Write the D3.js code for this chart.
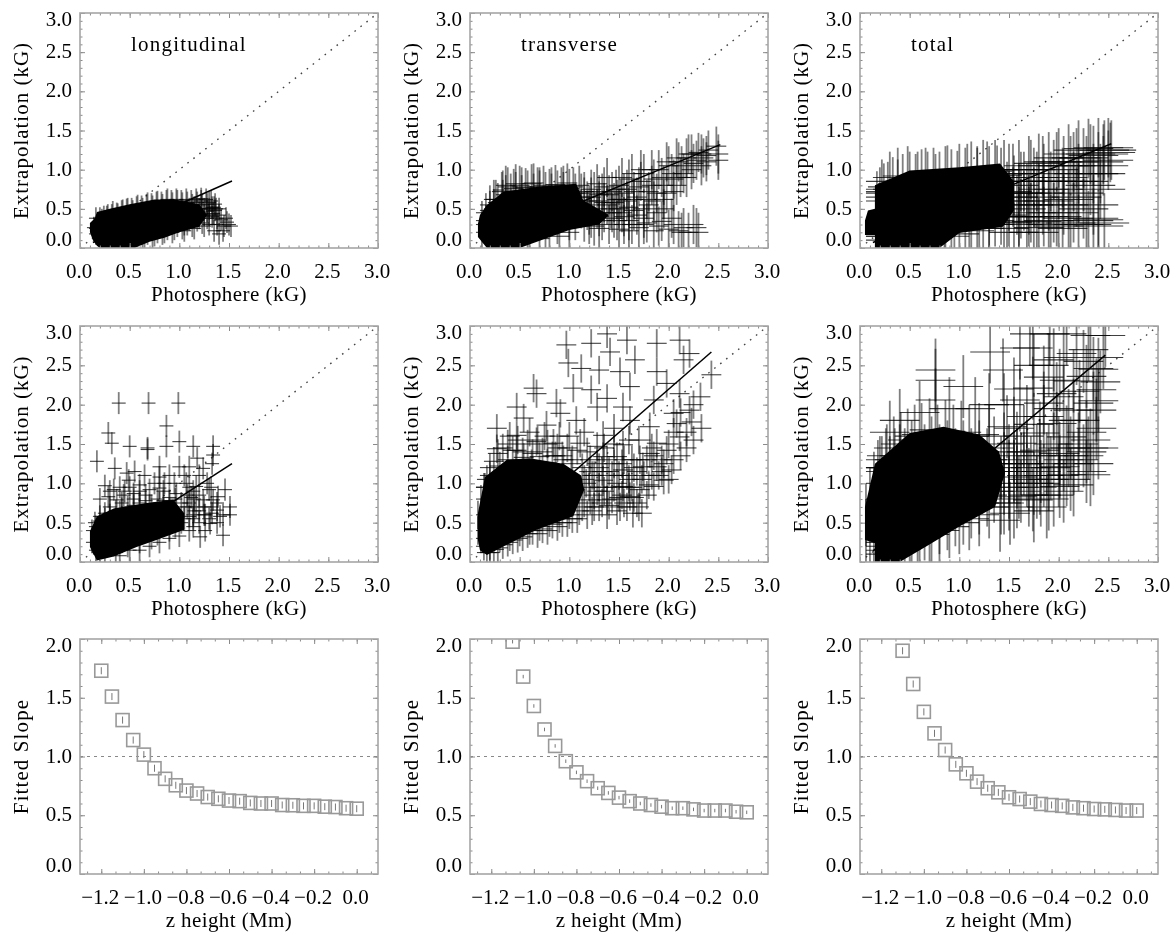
<!DOCTYPE html>
<html>
<head>
<meta charset="utf-8">
<script src="https://cdn.jsdelivr.net/npm/d3@7"></script>
<style>
  body { margin: 0; background: #fff; }
  text { font-family: "Liberation Serif", serif; fill: #000; }
</style>
</head>
<body>
<svg id="chart" width="1170" height="932"></svg>
<script>
// data vars: [photosphere, extrapolation]
const longTopCore = [[.1,.2],[.13,.1],[.17,.03],[.2,0],[.55,0],[.7,.08],[.85,.13],[1,.2],[1.2,.27],[1.28,.42],[1.2,.56],[.95,.62],[.75,.62],[.5,.56],[.3,.5],[.17,.46],[.15,.38],[.1,.32]];
const longTopCrosses = [[.18,.3],[.22,.36],[.27,.4],[.32,.42],[.37,.44],[.42,.47],[.47,.49],[.52,.5],[.57,.52],[.62,.53],[.67,.55],[.72,.56],[.77,.58],[.82,.58],[.87,.6],[.92,.6],[.97,.62],[1.02,.6],[1.07,.62],[1.12,.6],[1.17,.62],[1.22,.63],[1.27,.62],[1.32,.6],[1.36,.56],[1.3,.5],[1.36,.48],[1.25,.42],[1.2,.5],[1.15,.44],[1.1,.36],[1.05,.3],[.3,.1],[.42,.08],[.55,.1],[.65,.13],[.75,.16],[.85,.2],[.95,.24],[1.05,.22],[1.15,.25],[1.25,.28],[1.3,.3],[1.38,.38],[1.42,.36],[1.45,.28],[1.48,.33],[1.5,.3],[1.44,.22],[1.4,.18],[1.35,.22],[1.47,.38],[1.38,.3],[1.52,.28],[.16,.18],[.14,.26],
  [.16,.25],[.16,.38],[.2,.15],[.2,.38],[.24,.1],[.24,.4],[.28,.42],[.28,.12],[.33,.46],[.33,.15],[.38,.43],[.38,.1],[.43,.48],[.43,.12],[.48,.5],[.48,.15],[.53,.47],[.53,.08],[.58,.54],[.58,.16],[.63,.5],[.63,.12],[.68,.57],[.68,.18],[.73,.53],[.73,.14],[.78,.59],[.78,.2],[.83,.55],[.83,.18],[.88,.62],[.88,.24],[.93,.57],[.93,.2],[.98,.6],[.98,.28],[1.03,.57],[1.03,.25],[1.08,.58],[1.08,.3],[1.13,.55],[1.13,.28],[1.18,.58],[1.18,.35],[1.23,.55],[1.23,.32],[1.28,.56],[1.28,.38],[1.33,.52],[1.33,.4],[1.37,.5],[1.2,.45],[1.28,.47],[1.34,.44],
  [1.2,.38],[1.25,.5],[1.3,.42],[1.35,.52],[1.4,.42],[1.22,.6],[1.3,.58],[1.15,.52],[1.1,.5],[1.4,.5]];

const transTopCore = [[.08,.31],[.1,.42],[.17,.55],[.34,.72],[.67,.78],[1.07,.82],[1.14,.61],[1.4,.42],[1.3,.3],[1,.23],[.5,0],[.17,0],[.08,.14]];
const transTopCrosses = [[.2,.55],[.26,.62],[.32,.72],[.38,.78],[.44,.76],[.5,.8],[.56,.77],[.62,.82],[.68,.78],[.74,.8],[.8,.76],[.86,.81],[.92,.78],[.98,.83],[1.04,.78],[1.1,.8],[1.15,.65],[1.2,.55],[1.25,.72],[1.3,.6],[1.35,.78],[1.4,.68],[1.45,.58],[1.5,.8],[1.55,.7],[1.6,.88],[1.65,.62],[1.7,.78],[1.75,.95],[1.8,.72],[1.85,.88],[1.9,1],[1.95,.8],[2,1.05],[2.05,.88],[2.1,1.1],[2.15,.95],[2.2,1.2],[2.25,1.08],[2.3,1.22],[2.35,1.15],[2.4,1.25],[2.48,1.3],[2.5,1.2],[2.5,1.12],[1.2,.42],[1.35,.45],[1.5,.5],[1.65,.48],[1.8,.55],[1.95,.5],[1.45,.38],[1.6,.35],[1.15,.33],[1.25,.28],[1.3,.25],[1.4,.3],[1.5,.24],[1.55,.3],[1.6,.22],[1.7,.26],[1.75,.3],[1.85,.22],[1.9,.28],[2,.24],[2.05,.3],[2.1,.22],[2.15,.26],[2.25,.3],[2.2,.2],[2.3,.2],[.3,.12],[.4,.1],[.5,.12],[.6,.15],[.7,.12],[.8,.18],[.9,.15],[1,.2],
  [.12,.2],[.12,.35],[.16,.3],[.16,.45],[.2,.15],[.2,.48],[.24,.5],[.24,.62],[.28,.58],[.28,.1],[.33,.62],[.33,.74],[.36,.68],[.36,.8],[.41,.7],[.41,.3],[.46,.72],[.46,.82],[.52,.68],[.52,.78],[.58,.74],[.58,.2],[.64,.7],[.64,.83],[.7,.74],[.7,.78],[.76,.72],[.76,.25],[.82,.78],[.82,.7],[.88,.74],[.88,.3],[.94,.8],[.94,.72],[1,.76],[1,.35],[1.06,.7],[1.06,.35],[1.12,.5],[1.12,.7],[1.18,.48],[1.18,.6],[1.22,.65],[1.22,.38],[1.28,.5],[1.28,.82],[1.33,.35],[1.33,.7],[1.38,.55],[1.38,.9],[1.43,.72],[1.43,.45],[1.48,.35],[1.48,.62],[1.53,.9],[1.53,.45],[1.58,.6],[1.58,.75],[1.63,.95],[1.63,.3],[1.68,.65],[1.68,.42],[1.72,.85],[1.72,1],[1.78,.62],[1.78,.32],[1.83,.8],[1.83,1],[1.88,.45],[1.88,.7],[1.93,.9],[1.93,.34],[1.98,.7],[1.98,1.1],[2.03,.95],[2.03,.38],[2.08,1.15],[2.08,.8],[2.13,1.05],[2.13,.2],[2.18,1.15],[2.18,.9],[2.23,1],[2.23,1.2],[2.28,1.12],[2.28,.26],[2.33,1.2],[2.33,1.05],[2.38,1.18],[2.38,1.1],
  [1.15,.72],[1.22,.75],[1.3,.68],[1.35,.58],[1.42,.5],[1.47,.75],[1.52,.62],[1.6,.52],[1.65,.72],[1.75,.5],[1.85,.6],[1.95,.62],[2.05,.72],[2.12,.9],[1.2,.3],[1.3,.4],[1.55,.4],[1.75,.38]];

const totalTopCore = [[.05,.165],[.05,.35],[.08,.48],[.15,.5],[.15,.8],[.5,.99],[1,1.03],[1.41,1.08],[1.55,.85],[1.55,.48],[1.44,.27],[1,.19],[.8,0],[.15,0],[.15,.165]];
const totalTopCrosses = [[.22,.75],[.3,.85],[.38,.9],[.48,.92],[.58,.85],[.66,.9],[.76,.82],[.88,.93],[.98,.86],[1.08,.95],[1.18,.92],[1.28,.98],[1.38,.93],[1.45,1],[1.5,.95],[1.55,.8],[1.6,1],[1.65,.85],[1.7,1.05],[1.75,.9],[1.8,1.08],[1.85,.95],[1.9,1.1],[1.95,1],[2,1.15],[2.05,1.05],[2.1,1.2],[2.15,1.1],[2.2,1.25],[2.25,1.15],[2.3,1.27],[2.35,1.18],[2.4,1.28],[2.45,1.2],[2.5,1.28],[2.52,1.22],[2.5,1.12],[2.45,1.05],[2.35,.95],[2.25,.85],[1.5,.6],[1.6,.7],[1.7,.55],[1.8,.7],[1.9,.6],[2,.75],[2.1,.62],[2.2,.7],[1.5,.4],[1.6,.3],[1.7,.4],[1.8,.26],[1.9,.35],[2,.28],[2.1,.38],[2.2,.3],[2.3,.35],[2.4,.28],[2.35,.38],[1.45,.25],[1.55,.2],[1.75,.2],[1.1,.22],[1.2,.25],[1.3,.3],[.95,.18],[.85,.15],
  [.17,.6],[.17,.2],[.2,.65],[.2,.15],[.24,.7],[.24,.1],[.28,.72],[.28,.15],[.33,.78],[.33,.2],[.38,.75],[.38,.25],[.43,.82],[.43,.18],[.5,.85],[.5,.22],[.56,.82],[.56,.3],[.62,.88],[.62,.28],[.68,.85],[.68,.2],[.74,.9],[.74,.3],[.8,.85],[.8,.25],[.86,.92],[.86,.32],[.92,.88],[.92,.3],[1,.95],[1,.32],[1.06,.9],[1.06,.3],[1.12,.98],[1.12,.35],[1.18,.9],[1.18,.35],[1.24,1],[1.24,.38],[1.3,.92],[1.3,.35],[1.36,1],[1.36,.4],[1.42,.9],[1.42,.42],[1.48,.72],[1.48,.33],[1.54,.65],[1.54,.95],[1.62,.85],[1.62,.5],[1.68,.7],[1.68,.32],[1.72,1],[1.72,.45],[1.78,.85],[1.78,.34],[1.84,1.05],[1.84,.55],[1.92,.85],[1.92,.3],[1.98,1.1],[1.98,.4],[2.04,.9],[2.04,.25],[2.12,1.05],[2.12,.32],[2.18,1.15],[2.18,.65],[2.28,1.05],[2.28,.3],[2.32,1.2],[2.32,.8],[2.4,1.1],[2.4,.36],[2.46,1.25],[2.46,.32],[2.53,1.25],
  [1.58,.55],[1.65,.6],[1.75,.65],[1.85,.75],[1.95,.45],[2.05,.55],[2.15,.45],[2.25,.5],[2.35,.55],[2.42,.75],[2.05,.85],[2.15,.85],[1.6,.4],[1.85,.4],[2.2,.95],[2.42,.95]];

const longMidCore = [[.1,.39],[.17,.58],[.34,.68],[.67,.75],[.94,.79],[1.05,.62],[1.05,.41],[.77,.28],[.57,.19],[.34,.07],[.17,.02],[.1,.19]];
const longMidCrosses = [[.39,2.02],[.69,2.02],[.99,2.02],[.87,1.73],[.285,1.64],[.32,1.51],[.5,1.47],[.68,1.43],[.68,1.45],[.87,1.47],[1,1.53],[.17,1.28],[.35,1.19],[.47,1.13],[.8,1.21],[1.14,1.47],[1.34,1.47],[1.34,1.36],[1.18,1.32],[.25,.97],[.34,.92],[.49,1.04],[.6,.98],[.8,1.08],[.9,1.1],[1,1.21],[1.1,1.21],[1.24,1.19],[1.33,1.25],[1.46,.92],[1.39,.83],[1.51,.7],[1.51,.6],[1.33,.62],[1.31,.49],[1.44,.34],[1.21,.32],[1.41,.58],[1.17,.96],[1.28,1],[1.07,1],[.97,.87],[.37,.79],[.285,.83],[.44,.85],[.54,.87],[.7,.92],[.8,.94],[1.17,.7],[1.24,.79],[1.14,.6],[1.34,.79],[1.14,.45],[.25,.1],[.4,.08],[.5,.15],[.6,.15],[.7,.2],[.8,.25],[.9,.3],[1,.33],[1.1,.4],[.15,.5],[.2,.58],[.3,.62],[.4,.64],[.5,.68],[.6,.7],[.7,.72],[.8,.75],[.9,.78],[1.05,.7],[1.1,.58],[1.25,.6],[1.38,.66],[1.3,.92],[1.12,.82],
  [.12,.25],[.12,.4],[.16,.45],[.16,.15],[.2,.52],[.2,.1],[.25,.55],[.25,.62],[.3,.6],[.3,.7],[.36,.65],[.36,.12],[.42,.68],[.42,.75],[.48,.7],[.48,.2],[.54,.72],[.54,.8],[.6,.75],[.6,.25],[.66,.78],[.66,.85],[.72,.72],[.72,.3],[.78,.8],[.78,.35],[.84,.78],[.84,.9],[.9,.82],[.9,.4],[.96,.8],[.96,.45],[1.02,.75],[1.02,.5],[1.08,.7],[1.08,.85],[1.14,.55],[1.14,.9],[1.2,.65],[1.2,.5],[1.26,.6],[1.26,.4],[1.32,.7],[1.32,.95],[1.38,.75],[1.38,.5],[1.44,.6],[1.05,1.1],[.65,1.1],[.5,.95],[.4,.95],[.3,.9],[.2,.8],[.75,1],[.95,1],[1.2,1.1],[.55,1.15],
  [1.1,.75],[1.15,.8],[1.05,.55],[1.15,.65],[1.2,.85],[1.25,.7],[1.3,.55],[1.1,.95],[.85,1],[.6,.9],[.45,.9]];

const transMidCore = [[.08,.28],[.08,.62],[.15,1.08],[.37,1.3],[.6,1.32],[.94,1.25],[1.12,1.1],[1.15,.92],[1.04,.58],[.67,.41],[.34,.2],[.17,.09],[.1,.15]];
const transMidCrosses = [[.97,2.76],[1.22,2.78],[1.38,2.9],[1.58,2.82],[1.88,2.78],[2.11,2.82],[1.41,2.67],[.99,2.53],[1.12,2.46],[1.3,2.44],[1.66,2.57],[1.51,2.42],[1.88,2.42],[2.21,2.65],[2.43,2.38],[2.15,2.57],[.64,2.21],[.67,2.14],[1.04,2.21],[1.22,2.19],[1.38,2.08],[1.61,2.23],[1.85,2.06],[1.98,2.27],[2.11,2.14],[2.32,2.1],[.47,1.97],[.54,1.83],[.87,2.02],[.91,1.89],[1.28,1.97],[1.54,1.97],[2.05,1.89],[2.21,1.93],[2.33,1.7],[.27,1.7],[.47,1.61],[.77,1.74],[1.07,1.8],[1.34,1.61],[1.61,1.8],[1.81,1.72],[2.08,1.76],[2.23,1.78],[.27,1.44],[.47,1.42],[.67,1.53],[.84,1.51],[1.11,1.51],[1.28,1.47],[1.54,1.49],[1.81,1.38],[1.98,1.42],[2.11,1.59],[1.95,1.04],[2.03,1.17],[1.85,.96],[1.64,.62],[1.71,.92],[1.54,.96],[1.38,.79],[1.54,1.17],[1.74,1.21],[1.34,1.04],[1.21,1.3],[1.34,1.34],[1.48,1.34],[1.17,1],[1.21,.79],[1.51,.7],[1.38,.6],[1.61,.83],[1.88,1.21],[1.88,1.51],[1.71,1.3],[.15,.95],[.2,1.1],[.3,1.22],[.38,1.3],[.46,1.24],[.54,1.33],[.62,1.25],[.7,1.34],[.78,1.26],[.86,1.35],[.94,1.3],[1.02,1.25],[.2,.2],[.3,.3],[.4,.32],[.5,.38],[.6,.4],[.7,.45],[.8,.5],[.9,.55],[1,.6],[1.1,.65],
  [.08,.4],[.08,.6],[.11,.3],[.11,.8],[.14,.95],[.14,.2],[.17,1.05],[.17,.12],[.2,1.2],[.2,.12],[.24,1.28],[.24,.16],[.28,1.38],[.28,.18],[.33,1.45],[.33,.22],[.38,1.5],[.38,.25],[.43,1.42],[.43,.28],[.48,1.55],[.48,.3],[.53,1.4],[.53,.32],[.58,1.5],[.58,.36],[.63,1.38],[.63,.4],[.68,1.55],[.68,.36],[.73,1.4],[.73,.42],[.78,1.5],[.78,.4],[.83,1.35],[.83,.48],[.88,1.45],[.88,.45],[.93,1.35],[.93,.5],[.98,1.45],[.98,.5],[1.03,1.3],[1.03,.55],[1.08,1.42],[1.08,.55],[1.13,1.2],[1.13,.7],[1.18,1.4],[1.18,.6],[1.23,1.1],[1.23,.65],[1.28,.9],[1.28,1.25],[1.33,.75],[1.33,1.15],[1.38,.95],[1.38,1.3],[1.43,.8],[1.43,1.1],[1.48,.65],[1.48,1],[1.53,.85],[1.53,1.25],[1.58,.7],[1.58,1.1],[1.63,.95],[1.63,1.3],[1.68,.75],[1.68,1.15],[1.73,1.05],[1.73,.62],[1.78,1.3],[1.78,.85],[1.83,1.1],[1.83,1.45],[1.93,1.3],[1.93,1.15],[2,1.5],[2,1.05],[2.05,1.3],[2.05,1.65],[2.12,1.35],[2.12,1.9],[2.18,1.65],[2.18,1.45],[2.25,2],[2.25,1.55],
  [1.15,1.05],[1.2,.95],[1.25,1.1],[1.25,.85],[1.3,1.2],[1.3,.95],[1.35,.9],[1.4,1.15],[1.4,.72],[1.45,1.25],[1.45,.95],[1.5,.82],[1.5,1.1],[1.55,.75],[1.55,1.3],[1.6,.95],[1.6,1.05],[1.65,1.2],[1.65,.82],[1.7,.7],[1.75,1.1],[1.8,.98],[1.85,1.35],[1.9,1.1],[1.95,1.25],[1.2,1.15],[1.15,.75],[1.25,.7],[1.3,.7],[1.35,1.45],[1.45,1.5],[1.6,1.55],[1.7,1.55],[.9,1.6],[.75,1.6],[.6,1.65],[.4,1.6],[1,1.6],[1.15,1.65],[1.45,1.7]];

const totalMidCore = [[.05,.28],[.05,.7],[.15,1.25],[.5,1.64],[.84,1.72],[1.2,1.62],[1.4,1.4],[1.46,1.13],[1.36,.7],[1,.45],[.67,.2],[.4,0],[.15,0],[.15,.24]];
const totalMidCrosses = [[.76,2.44],[.76,2.31],[.76,2.06],[1.31,2.67],[1.04,2.23],[1.16,1.95],[1.44,2.44],[1.61,2.72],[1.74,2.72],[1.91,2.9],[2.08,2.9],[1.71,2.9],[2.32,2.88],[2.47,2.88],[1.95,2.57],[2.18,2.65],[2.35,2.46],[2.01,2.31],[2.28,2.36],[2.42,2.29],[1.74,2.21],[1.98,2.14],[2.21,2.17],[2.38,2.19],[1.61,2.06],[1.85,2.02],[2.35,2.02],[2.15,1.93],[2.38,1.93],[1.68,1.85],[1.98,1.76],[2.21,1.8],[2.38,1.7],[1.48,1.72],[1.81,1.64],[2.08,1.59],[2.32,1.55],[1.58,1.51],[1.81,1.42],[2.01,1.38],[2.28,1.4],[1.58,1.3],[1.88,1.25],[2.15,1.25],[2.35,1.25],[1.58,1.08],[1.81,1],[2.08,1.11],[2.32,1.11],[1.74,.79],[1.58,.83],[2.01,.96],[1.88,.7],[1.51,.62],[1.41,.53],[2.01,1.21],[.2,1.2],[.27,1.35],[.34,1.45],[.41,1.5],[.48,1.55],[.55,1.6],[.62,1.62],[.7,1.68],[.78,1.6],[.86,1.66],[.94,1.6],[1.02,1.65],[1.1,1.6],[1.2,1.62],[1.3,1.6],[.5,.25],[.6,.3],[.7,.35],[.8,.4],[.9,.45],[1,.5],[1.1,.55],[1.2,.6],[1.3,.7],[1.45,1],[1.45,1.25],[1.7,1.05],
  [.06,.4],[.06,.6],[.1,.35],[.1,.8],[.14,1],[.14,.2],[.18,1.15],[.18,.25],[.22,1.2],[.22,.1],[.26,1.3],[.26,.15],[.3,1.2],[.35,1.3],[.35,.12],[.4,1.35],[.4,.2],[.45,1.3],[.45,.25],[.52,1.4],[.52,.3],[.58,1.25],[.58,.35],[.65,1.35],[.65,.42],[.72,1.45],[.72,.4],[.8,1.35],[.8,.5],[.88,1.4],[.88,.55],[.96,1.3],[.96,.6],[1.04,1.4],[1.04,.62],[1.12,1.3],[1.12,.7],[1.2,1.4],[1.2,.75],[1.28,1.3],[1.28,.85],[1.35,1.45],[1.35,.9],[1.42,1.2],[1.42,.75],[1.5,1.35],[1.5,.95],[1.55,1.15],[1.55,.7],[1.62,1.25],[1.62,.9],[1.68,1.4],[1.68,1.1],[1.75,1],[1.75,.65],[1.82,1.15],[1.82,.85],[1.9,1.05],[1.9,1.35],[1.95,.85],[1.95,1.5],[2.05,1.3],[2.05,.9],[2.12,1.45],[2.12,1.05],[2.2,1.3],[2.2,1.5],[2.28,1.15],[2.28,1.65],[2.4,1.45],[2.4,2.05],[1.85,2.35],[1.75,2.5],[2.05,2.6],[2.25,2.55],[2.45,2.6],
  [1.45,.75],[1.5,1.15],[1.5,.8],[1.55,1.4],[1.6,.95],[1.65,1.25],[1.7,.85],[1.72,1.2],[1.78,.95],[1.78,1.35],[1.85,1.1],[1.9,.8],[1.92,1.2],[2,1.1],[2,1.45],[2.1,1.35],[2.15,.98],[2.25,1.35],[2.3,1.45],[1.45,1.5],[1.55,1.7],[1.65,1.6],[1.75,1.75],[1.85,1.85],[1.95,1.95],[2.1,1.8],[2.05,2.1],[2.15,2.3],[1.9,2.5],[2.3,2.7],[2.4,2.45],[1.55,2.2],[1.45,2],[1.3,2],[.9,1.95],[.6,1.9],[.4,1.8],[.3,1.65]];

// error bar half sizes for each scatter panel, kG
const crossErrors = [[.07,.14],[.1,.25],[.25,.38],[.07,.14],[.1,.18],[.2,.4]];
// nothing was measured left of this photosphere value
const leftLimit = 0.06;
// end points of the fitted lines
const fitLines = [[[.13,.07],[1.53,.855]],[[.13,.07],[2.52,1.32]],[[.13,.07],[2.53,1.33]],[[.13,.11],[1.53,1.25]],[[.13,.14],[2.43,2.67]],[[.13,.14],[2.47,2.63]]];

const heightsLong = [-1.2,-1.15,-1.1,-1.05,-1,-.95,-.9,-.85,-.8,-.75,-.7,-.65,-.6,-.55,-.5,-.45,-.4,-.35,-.3,-.25,-.2,-.15,-.1,-.05,0];
const heightsOther = [-1.1,-1.05,-1,-.95,-.9,-.85,-.8,-.75,-.7,-.65,-.6,-.55,-.5,-.45,-.4,-.35,-.3,-.25,-.2,-.15,-.1,-.05,0];
const slopesLong = [1.73,1.51,1.31,1.14,1.016,.9,.81,.755,.71,.685,.655,.64,.625,.62,.605,.6,.6,.587,.585,.58,.58,.573,.57,.56,.556];
const slopesTrans = [1.977,1.68,1.43,1.23,1.09,.96,.865,.79,.73,.69,.65,.62,.6,.587,.573,.56,.56,.55,.54,.54,.54,.53,.525];
const slopesTotal = [1.9,1.617,1.38,1.197,1.055,.933,.857,.786,.73,.695,.653,.638,.616,.596,.587,.58,.567,.56,.553,.55,.545,.54,.54];
const slopeErrors = [.03,.015,.03];

const scatterTicks = [0, .5, 1, 1.5, 2, 2.5, 3];
const slopeTicks = [0, .5, 1, 1.5, 2];
const heightTicks = [-1.2, -1, -.8, -.6, -.4, -.2, 0];
const panelTitles = ["longitudinal", "transverse", "total"];

// constants
const columns = [80, 470, 860];
const rows = [[13, 248], [326, 562], [639, 874]];
const boxWidth = 298;
const fontSize = 21;
const boxColor = "#a6a6a6";
const tickColor = "#8a8a8a";

const svg = d3.select("#chart");

const defs = svg.append("defs");
defs.append("filter").attr("id", "soften")
  .attr("filterUnits", "userSpaceOnUse")
  .attr("color-interpolation-filters", "sRGB")
  .attr("x", 0).attr("y", 0)
  .attr("width", 1170).attr("height", 932)
  .append("feGaussianBlur").attr("stdDeviation", 0.6);

const root = svg.append("g").attr("filter", "url(#soften)");
root.append("rect").attr("width", 1170).attr("height", 932).attr("fill", "#fff");

const fmt = d3.format(".1f");
const minusFmt = d => fmt(d).replace("-", "\u2212");

function frame(g, x, y, majorX, minorX, majorY, minorY) {
  const [x0, x1] = x.range();
  const [y1, y0] = y.range();

  const sides = [
    [d3.axisBottom(x), `translate(0,${y1})`, majorX, minorX],
    [d3.axisTop(x), `translate(0,${y0})`, majorX, minorX],
    [d3.axisLeft(y), `translate(${x0},0)`, majorY, minorY],
    [d3.axisRight(y), `translate(${x1},0)`, majorY, minorY]
  ];

  sides.forEach(([axis, tr, major, minor]) => {
    const a = g.append("g").attr("transform", tr);
    a.append("g").call(axis.tickValues(minor).tickSize(-2.5).tickFormat("").tickSizeOuter(0));
    a.append("g").call(axis.tickValues(major).tickSize(-5).tickFormat("").tickSizeOuter(0));
    a.selectAll(".domain").remove();
    a.selectAll("line").attr("stroke", tickColor).attr("stroke-width", 1);
  });

  g.append("rect")
    .attr("x", x0).attr("y", y0)
    .attr("width", x1 - x0).attr("height", y1 - y0)
    .attr("fill", "none").attr("stroke", boxColor).attr("stroke-width", 1.6);

  // tick labels, the two end labels of y sit inside the box
  const yTop = d3.max(majorY);
  const yBottom = d3.min(majorY);
  g.append("g").selectAll("text").data(majorY).join("text")
    .attr("x", x0 - 8)
    .attr("y", d => y(d) + 6 + (d === yBottom ? -8 : d === yTop ? 7 : 0))
    .attr("text-anchor", "end")
    .attr("font-size", fontSize)
    .text(fmt);

  g.append("g").selectAll("text").data(majorX).join("text")
    .attr("x", d => x(d) - 1)
    .attr("y", y1 + 30)
    .attr("text-anchor", "middle")
    .attr("font-size", fontSize)
    .text(minusFmt);
}

function titles(g, x, y, xTitle, yTitle, xSpacing, ySpacing) {
  const [x0, x1] = x.range();
  const [y1, y0] = y.range();
  g.append("text")
    .attr("x", (x0 + x1) / 2)
    .attr("y", y1 + 53)
    .attr("text-anchor", "middle")
    .attr("font-size", fontSize)
    .attr("letter-spacing", xSpacing)
    .text(xTitle);
  g.append("text")
    .attr("transform", `translate(${x0 - 52},${(y0 + y1) / 2}) rotate(-90)`)
    .attr("text-anchor", "middle")
    .attr("font-size", fontSize)
    .attr("letter-spacing", ySpacing)
    .text(yTitle);
}

function clipFor(id, x, y) {
  const [x0, x1] = x.range();
  const [y1, y0] = y.range();
  defs.append("clipPath").attr("id", id)
    .append("rect")
    .attr("x", x0).attr("y", y0)
    .attr("width", x1 - x0).attr("height", y1 - y0);
}

function scatterPanel(col, row, core, crosses, errors, fit, title) {
  const left = columns[col];
  const x = d3.scaleLinear().domain([0, 3]).range([left, left + boxWidth]);
  const y = d3.scaleLinear().domain([0, 3]).range([rows[row][1], rows[row][0]]);
  const id = `clip-${col}-${row}`;
  clipFor(id, x, y);

  const g = root.append("g");
  const plot = g.append("g").attr("clip-path", `url(#${id})`);

  const line = d3.line().x(d => x(d[0])).y(d => y(d[1]));

  plot.append("path")
    .attr("d", line([[0, 0], [3, 3]]))
    .attr("stroke", "#444").attr("stroke-width", 1.4)
    .attr("stroke-dasharray", "1.6 6");

  plot.append("path")
    .attr("d", line(core) + "Z")
    .attr("fill", "#000");

  const [ex, ey] = errors;

  plot.append("g").selectAll("line").data(crosses).join("line")
    .attr("x1", d => x(d[0])).attr("x2", d => x(d[0]))
    .attr("y1", d => y(d[1] - ey)).attr("y2", d => y(d[1] + ey))
    .attr("stroke", "#000").attr("stroke-width", 1.8).attr("stroke-opacity", 0.5);

  plot.append("g").selectAll("line").data(crosses).join("line")
    .attr("x1", d => x(Math.max(d[0] - ex, leftLimit))).attr("x2", d => x(d[0] + ex))
    .attr("y1", d => y(d[1])).attr("y2", d => y(d[1]))
    .attr("stroke", "#000").attr("stroke-width", 1.1).attr("stroke-opacity", 0.75);

  plot.append("path")
    .attr("d", line(fit))
    .attr("fill", "none").attr("stroke", "#000").attr("stroke-width", 1.5);

  frame(g, x, y, scatterTicks, d3.range(0, 31).map(d => d / 10), scatterTicks, d3.range(0, 31).map(d => d / 10));
  titles(g, x, y, "Photosphere (kG)", "Extrapolation (kG)", 0.45, 1);

  if (title) {
    g.append("text")
      .attr("x", left + 51).attr("y", 51)
      .attr("font-size", fontSize)
      .attr("letter-spacing", 1.2)
      .text(title);
  }
}

function slopePanel(col, heights, slopes, err) {
  const left = columns[col];
  const x = d3.scaleLinear().domain([-1.3, 0.1]).range([left, left + boxWidth]);
  const y = d3.scaleLinear().domain([0, 2]).range([rows[2][1], rows[2][0]]);
  const id = `clip-${col}-2`;
  clipFor(id, x, y);

  const g = root.append("g");
  const plot = g.append("g").attr("clip-path", `url(#${id})`);
  const points = heights.map((h, i) => [h, slopes[i]]);
  const size = 13;

  plot.append("line")
    .attr("x1", x.range()[0]).attr("x2", x.range()[1])
    .attr("y1", y(1)).attr("y2", y(1))
    .attr("stroke", "#888").attr("stroke-width", 1.2).attr("stroke-dasharray", "3 4");

  plot.append("g").selectAll("rect").data(points).join("rect")
    .attr("x", d => x(d[0]) - size / 2)
    .attr("y", d => y(d[1]) - size / 2)
    .attr("width", size).attr("height", size)
    .attr("fill", "none").attr("stroke", "#999").attr("stroke-width", 1.6);

  plot.append("g").selectAll("line").data(points).join("line")
    .attr("x1", d => x(d[0])).attr("x2", d => x(d[0]))
    .attr("y1", d => y(d[1] - err)).attr("y2", d => y(d[1] + err))
    .attr("stroke", "#777").attr("stroke-width", 1);

  const minorX = d3.range(-19, 2).map(d => d / 15);
  frame(g, x, y, heightTicks, minorX, slopeTicks, d3.range(0, 21).map(d => d / 10));
  titles(g, x, y, "z height (Mm)", "Fitted Slope", 0.4, 1.1);
}

scatterPanel(0, 0, longTopCore, longTopCrosses, crossErrors[0], fitLines[0], panelTitles[0]);
scatterPanel(1, 0, transTopCore, transTopCrosses, crossErrors[1], fitLines[1], panelTitles[1]);
scatterPanel(2, 0, totalTopCore, totalTopCrosses, crossErrors[2], fitLines[2], panelTitles[2]);
scatterPanel(0, 1, longMidCore, longMidCrosses, crossErrors[3], fitLines[3]);
scatterPanel(1, 1, transMidCore, transMidCrosses, crossErrors[4], fitLines[4]);
scatterPanel(2, 1, totalMidCore, totalMidCrosses, crossErrors[5], fitLines[5]);

slopePanel(0, heightsLong, slopesLong, slopeErrors[0]);
slopePanel(1, heightsOther, slopesTrans, slopeErrors[1]);
slopePanel(2, heightsOther, slopesTotal, slopeErrors[2]);
</script>
</body>
</html>
